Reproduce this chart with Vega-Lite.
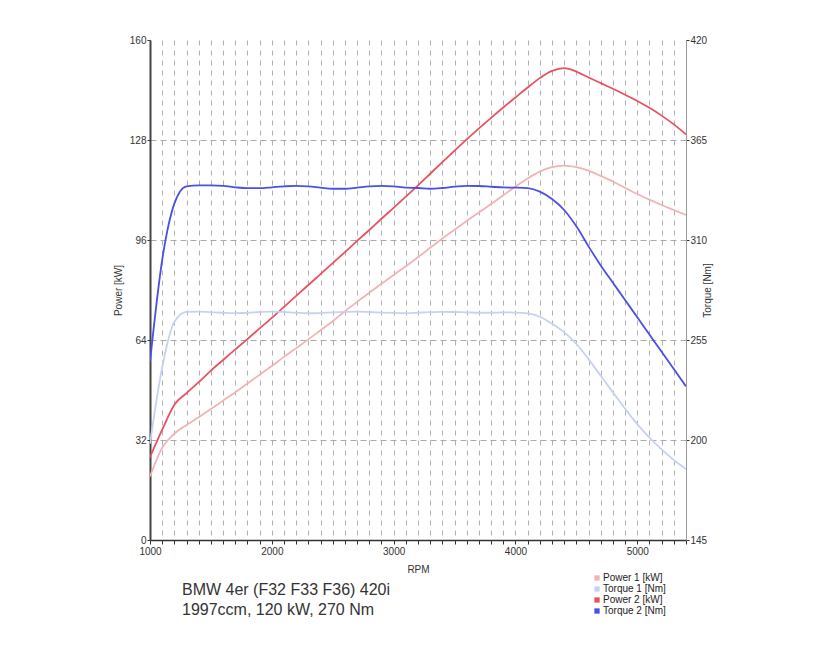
{
  "$schema": "https://vega.github.io/schema/vega-lite/v6.json",
  "width": 536,
  "height": 500,
  "autosize": "none",
  "padding": {"left": 150, "top": 40, "right": 144, "bottom": 110},
  "background": "white",
  "config": {
    "font": "Liberation Sans",
    "view": {"stroke": null},
    "axis": {"labelFont": "Liberation Sans", "titleFont": "Liberation Sans", "labelFontSize": 10, "titleFontSize": 10, "titleFontWeight": "normal", "labelColor": "#333", "titleColor": "#333"}
  },
  "title": {
    "text": ["\u2002BMW 4er (F32 F33 F36) 420i", "1997ccm, 120 kW, 270 Nm"],
    "orient": "bottom", "anchor": "start", "frame": "group",
    "fontSize": 16, "fontWeight": "normal", "color": "#333", "lineHeight": 20,
    "dx": 32, "offset": -34, "font": "Liberation Sans"
  },
  "datasets": {
    "power": [
      {"rpm":1000,"series":"Power 1 [kW]","value":20.3},{"rpm":1100,"series":"Power 1 [kW]","value":29.5},{"rpm":1200,"series":"Power 1 [kW]","value":34},{"rpm":1300,"series":"Power 1 [kW]","value":36.8},{"rpm":1400,"series":"Power 1 [kW]","value":39.3},{"rpm":1500,"series":"Power 1 [kW]","value":41.9},{"rpm":1600,"series":"Power 1 [kW]","value":44.6},{"rpm":1700,"series":"Power 1 [kW]","value":47.3},{"rpm":1800,"series":"Power 1 [kW]","value":50.1},{"rpm":1900,"series":"Power 1 [kW]","value":52.9},{"rpm":2000,"series":"Power 1 [kW]","value":55.7},{"rpm":2100,"series":"Power 1 [kW]","value":58.6},{"rpm":2200,"series":"Power 1 [kW]","value":61.4},{"rpm":2300,"series":"Power 1 [kW]","value":64.2},{"rpm":2400,"series":"Power 1 [kW]","value":67.1},{"rpm":2500,"series":"Power 1 [kW]","value":70},{"rpm":2600,"series":"Power 1 [kW]","value":73.2},{"rpm":2700,"series":"Power 1 [kW]","value":76.2},{"rpm":2800,"series":"Power 1 [kW]","value":79.1},{"rpm":2900,"series":"Power 1 [kW]","value":82},{"rpm":3000,"series":"Power 1 [kW]","value":84.8},{"rpm":3100,"series":"Power 1 [kW]","value":87.6},{"rpm":3200,"series":"Power 1 [kW]","value":90.5},{"rpm":3300,"series":"Power 1 [kW]","value":93.5},{"rpm":3400,"series":"Power 1 [kW]","value":96.5},{"rpm":3500,"series":"Power 1 [kW]","value":99.3},{"rpm":3600,"series":"Power 1 [kW]","value":102.1},{"rpm":3700,"series":"Power 1 [kW]","value":104.8},{"rpm":3800,"series":"Power 1 [kW]","value":107.5},{"rpm":3900,"series":"Power 1 [kW]","value":110.3},{"rpm":4000,"series":"Power 1 [kW]","value":113.1},{"rpm":4100,"series":"Power 1 [kW]","value":115.7},{"rpm":4200,"series":"Power 1 [kW]","value":117.9},{"rpm":4300,"series":"Power 1 [kW]","value":119.3},{"rpm":4400,"series":"Power 1 [kW]","value":119.8},{"rpm":4500,"series":"Power 1 [kW]","value":119.3},{"rpm":4600,"series":"Power 1 [kW]","value":118.2},{"rpm":4700,"series":"Power 1 [kW]","value":116.5},{"rpm":4800,"series":"Power 1 [kW]","value":114.7},{"rpm":4900,"series":"Power 1 [kW]","value":112.7},{"rpm":5000,"series":"Power 1 [kW]","value":110.7},{"rpm":5100,"series":"Power 1 [kW]","value":108.9},{"rpm":5200,"series":"Power 1 [kW]","value":107.2},{"rpm":5300,"series":"Power 1 [kW]","value":105.6},{"rpm":5400,"series":"Power 1 [kW]","value":104},
      {"rpm":1000,"series":"Power 2 [kW]","value":26.5},{"rpm":1100,"series":"Power 2 [kW]","value":35.3},{"rpm":1200,"series":"Power 2 [kW]","value":43.3},{"rpm":1300,"series":"Power 2 [kW]","value":47},{"rpm":1400,"series":"Power 2 [kW]","value":50.5},{"rpm":1500,"series":"Power 2 [kW]","value":54.2},{"rpm":1600,"series":"Power 2 [kW]","value":57.6},{"rpm":1700,"series":"Power 2 [kW]","value":61},{"rpm":1800,"series":"Power 2 [kW]","value":64.3},{"rpm":1900,"series":"Power 2 [kW]","value":67.7},{"rpm":2000,"series":"Power 2 [kW]","value":71.1},{"rpm":2100,"series":"Power 2 [kW]","value":74.6},{"rpm":2200,"series":"Power 2 [kW]","value":78.1},{"rpm":2300,"series":"Power 2 [kW]","value":81.6},{"rpm":2400,"series":"Power 2 [kW]","value":85.1},{"rpm":2500,"series":"Power 2 [kW]","value":88.6},{"rpm":2600,"series":"Power 2 [kW]","value":92.1},{"rpm":2700,"series":"Power 2 [kW]","value":95.7},{"rpm":2800,"series":"Power 2 [kW]","value":99.2},{"rpm":2900,"series":"Power 2 [kW]","value":102.8},{"rpm":3000,"series":"Power 2 [kW]","value":106.3},{"rpm":3100,"series":"Power 2 [kW]","value":109.9},{"rpm":3200,"series":"Power 2 [kW]","value":113.5},{"rpm":3300,"series":"Power 2 [kW]","value":117.2},{"rpm":3400,"series":"Power 2 [kW]","value":120.9},{"rpm":3500,"series":"Power 2 [kW]","value":124.6},{"rpm":3600,"series":"Power 2 [kW]","value":128.2},{"rpm":3700,"series":"Power 2 [kW]","value":131.7},{"rpm":3800,"series":"Power 2 [kW]","value":135.1},{"rpm":3900,"series":"Power 2 [kW]","value":138.4},{"rpm":4000,"series":"Power 2 [kW]","value":141.6},{"rpm":4100,"series":"Power 2 [kW]","value":144.8},{"rpm":4200,"series":"Power 2 [kW]","value":147.8},{"rpm":4300,"series":"Power 2 [kW]","value":150.1},{"rpm":4400,"series":"Power 2 [kW]","value":151},{"rpm":4500,"series":"Power 2 [kW]","value":149.9},{"rpm":4600,"series":"Power 2 [kW]","value":148},{"rpm":4700,"series":"Power 2 [kW]","value":146.2},{"rpm":4800,"series":"Power 2 [kW]","value":144.4},{"rpm":4900,"series":"Power 2 [kW]","value":142.5},{"rpm":5000,"series":"Power 2 [kW]","value":140.5},{"rpm":5100,"series":"Power 2 [kW]","value":138.3},{"rpm":5200,"series":"Power 2 [kW]","value":135.8},{"rpm":5300,"series":"Power 2 [kW]","value":133},{"rpm":5400,"series":"Power 2 [kW]","value":129.8}
    ],
    "torque": [
      {"rpm":1000,"series":"Torque 1 [Nm]","value":198},{"rpm":1100,"series":"Torque 1 [Nm]","value":240},{"rpm":1200,"series":"Torque 1 [Nm]","value":265},{"rpm":1300,"series":"Torque 1 [Nm]","value":270.5},{"rpm":1400,"series":"Torque 1 [Nm]","value":270.6},{"rpm":1500,"series":"Torque 1 [Nm]","value":270.3},{"rpm":1600,"series":"Torque 1 [Nm]","value":270},{"rpm":1700,"series":"Torque 1 [Nm]","value":269.8},{"rpm":1800,"series":"Torque 1 [Nm]","value":270},{"rpm":1900,"series":"Torque 1 [Nm]","value":270.4},{"rpm":2000,"series":"Torque 1 [Nm]","value":270.6},{"rpm":2100,"series":"Torque 1 [Nm]","value":270.4},{"rpm":2200,"series":"Torque 1 [Nm]","value":270},{"rpm":2300,"series":"Torque 1 [Nm]","value":269.7},{"rpm":2400,"series":"Torque 1 [Nm]","value":269.8},{"rpm":2500,"series":"Torque 1 [Nm]","value":270.2},{"rpm":2600,"series":"Torque 1 [Nm]","value":270.5},{"rpm":2700,"series":"Torque 1 [Nm]","value":270.6},{"rpm":2800,"series":"Torque 1 [Nm]","value":270.4},{"rpm":2900,"series":"Torque 1 [Nm]","value":270.1},{"rpm":3000,"series":"Torque 1 [Nm]","value":269.9},{"rpm":3100,"series":"Torque 1 [Nm]","value":269.8},{"rpm":3200,"series":"Torque 1 [Nm]","value":270},{"rpm":3300,"series":"Torque 1 [Nm]","value":270.3},{"rpm":3400,"series":"Torque 1 [Nm]","value":270.5},{"rpm":3500,"series":"Torque 1 [Nm]","value":270.4},{"rpm":3600,"series":"Torque 1 [Nm]","value":270.2},{"rpm":3700,"series":"Torque 1 [Nm]","value":270},{"rpm":3800,"series":"Torque 1 [Nm]","value":270},{"rpm":3900,"series":"Torque 1 [Nm]","value":270.2},{"rpm":4000,"series":"Torque 1 [Nm]","value":270.1},{"rpm":4100,"series":"Torque 1 [Nm]","value":269.6},{"rpm":4200,"series":"Torque 1 [Nm]","value":267.8},{"rpm":4300,"series":"Torque 1 [Nm]","value":264},{"rpm":4400,"series":"Torque 1 [Nm]","value":259.3},{"rpm":4500,"series":"Torque 1 [Nm]","value":252.8},{"rpm":4600,"series":"Torque 1 [Nm]","value":244.5},{"rpm":4700,"series":"Torque 1 [Nm]","value":235.3},{"rpm":4800,"series":"Torque 1 [Nm]","value":226.2},{"rpm":4900,"series":"Torque 1 [Nm]","value":217.2},{"rpm":5000,"series":"Torque 1 [Nm]","value":208.7},{"rpm":5100,"series":"Torque 1 [Nm]","value":201.3},{"rpm":5200,"series":"Torque 1 [Nm]","value":194.8},{"rpm":5300,"series":"Torque 1 [Nm]","value":189},{"rpm":5400,"series":"Torque 1 [Nm]","value":184},
      {"rpm":1000,"series":"Torque 2 [Nm]","value":243},{"rpm":1100,"series":"Torque 2 [Nm]","value":299},{"rpm":1200,"series":"Torque 2 [Nm]","value":330},{"rpm":1300,"series":"Torque 2 [Nm]","value":339.5},{"rpm":1400,"series":"Torque 2 [Nm]","value":340},{"rpm":1500,"series":"Torque 2 [Nm]","value":340},{"rpm":1600,"series":"Torque 2 [Nm]","value":339.8},{"rpm":1700,"series":"Torque 2 [Nm]","value":339},{"rpm":1800,"series":"Torque 2 [Nm]","value":338.5},{"rpm":1900,"series":"Torque 2 [Nm]","value":338.5},{"rpm":2000,"series":"Torque 2 [Nm]","value":339},{"rpm":2100,"series":"Torque 2 [Nm]","value":339.5},{"rpm":2200,"series":"Torque 2 [Nm]","value":339.8},{"rpm":2300,"series":"Torque 2 [Nm]","value":339.5},{"rpm":2400,"series":"Torque 2 [Nm]","value":338.8},{"rpm":2500,"series":"Torque 2 [Nm]","value":338.2},{"rpm":2600,"series":"Torque 2 [Nm]","value":338.2},{"rpm":2700,"series":"Torque 2 [Nm]","value":338.8},{"rpm":2800,"series":"Torque 2 [Nm]","value":339.5},{"rpm":2900,"series":"Torque 2 [Nm]","value":339.8},{"rpm":3000,"series":"Torque 2 [Nm]","value":339.5},{"rpm":3100,"series":"Torque 2 [Nm]","value":338.8},{"rpm":3200,"series":"Torque 2 [Nm]","value":338.6},{"rpm":3300,"series":"Torque 2 [Nm]","value":338.2},{"rpm":3400,"series":"Torque 2 [Nm]","value":338.6},{"rpm":3500,"series":"Torque 2 [Nm]","value":339.3},{"rpm":3600,"series":"Torque 2 [Nm]","value":339.8},{"rpm":3700,"series":"Torque 2 [Nm]","value":339.7},{"rpm":3800,"series":"Torque 2 [Nm]","value":339.3},{"rpm":3900,"series":"Torque 2 [Nm]","value":338.9},{"rpm":4000,"series":"Torque 2 [Nm]","value":338.8},{"rpm":4100,"series":"Torque 2 [Nm]","value":338.5},{"rpm":4200,"series":"Torque 2 [Nm]","value":336.6},{"rpm":4300,"series":"Torque 2 [Nm]","value":332.5},{"rpm":4400,"series":"Torque 2 [Nm]","value":326.5},{"rpm":4500,"series":"Torque 2 [Nm]","value":317.5},{"rpm":4600,"series":"Torque 2 [Nm]","value":306.5},{"rpm":4700,"series":"Torque 2 [Nm]","value":296},{"rpm":4800,"series":"Torque 2 [Nm]","value":286.5},{"rpm":4900,"series":"Torque 2 [Nm]","value":277},{"rpm":5000,"series":"Torque 2 [Nm]","value":267.5},{"rpm":5100,"series":"Torque 2 [Nm]","value":258},{"rpm":5200,"series":"Torque 2 [Nm]","value":248.5},{"rpm":5300,"series":"Torque 2 [Nm]","value":239},{"rpm":5400,"series":"Torque 2 [Nm]","value":229.5}
    ]
  },
  "layer": [
    {
      "data": {"name": "power"},
      "mark": {"type": "line", "interpolate": "monotone", "strokeWidth": 1.8, "clip": true},
      "encoding": {
        "x": {"field": "rpm", "type": "quantitative",
          "scale": {"domain": [1000, 5400], "nice": false, "zero": false},
          "axis": {
            "title": "RPM", "titlePadding": 8, "tickCount": 100,
            "values": [1000,1100,1200,1300,1400,1500,1600,1700,1800,1900,2000,2100,2200,2300,2400,2500,2600,2700,2800,2900,3000,3100,3200,3300,3400,3500,3600,3700,3800,3900,4000,4100,4200,4300,4400,4500,4600,4700,4800,4900,5000,5100,5200,5300,5400],
            "labelExpr": "datum.value % 1000 === 0 ? format(datum.value, 'd') : ''",
            "labelOverlap": false, "labelFlush": false, "labelPadding": 2,
            "grid": true, "gridDash": [5, 5], "gridColor": "#b0b0b0", "gridWidth": 1,
            "tickSize": 4, "tickColor": "#333", "domainColor": "#333", "domainWidth": 1.5
          }
        },
        "y": {"field": "value", "type": "quantitative",
          "scale": {"domain": [0, 160], "nice": false},
          "axis": {
            "title": "Power [kW]", "orient": "left", "titlePadding": 6,
            "values": [0, 32, 64, 96, 128, 160],
            "grid": true, "gridDash": [6, 4], "gridColor": "#aaaaaa",
            "gridOpacity": {"condition": {"test": "datum.value === 160 || datum.value === 0", "value": 0}, "value": 1},
            "tickSize": 3, "tickColor": "#333", "labelPadding": 1,
            "domainColor": "#444", "domainWidth": 2
          }
        },
        "color": {"field": "series", "type": "nominal",
          "scale": {"domain": ["Power 1 [kW]", "Torque 1 [Nm]", "Power 2 [kW]", "Torque 2 [Nm]"], "range": ["#f2b3b6", "#c6d2f3", "#e8525f", "#4b4fe6"]},
          "legend": {
            "title": null, "orient": "none", "legendX": 442, "legendY": 533,
            "symbolType": "square", "symbolSize": 28, "labelFontSize": 10, "labelColor": "#222",
            "rowPadding": 1, "labelOffset": 1, "padding": 0,
            "encode": {"symbols": {"update": {"fill": {"scale": "color", "field": "value"}, "strokeWidth": {"value": 0}}}}
          }
        }
      }
    },
    {
      "data": {"name": "torque"},
      "mark": {"type": "line", "interpolate": "monotone", "strokeWidth": 1.8, "clip": true},
      "encoding": {
        "x": {"field": "rpm", "type": "quantitative"},
        "y": {"field": "value", "type": "quantitative",
          "scale": {"domain": [145, 420], "nice": false, "zero": false},
          "axis": {
            "title": "Torque [Nm]", "orient": "right", "titleAngle": 270, "titlePadding": 6,
            "values": [145, 200, 255, 310, 365, 420], "grid": false,
            "tickSize": 3, "tickColor": "#333", "labelPadding": 1,
            "domainColor": "#999", "domainWidth": 1
          }
        },
        "color": {"field": "series", "type": "nominal"}
      }
    }
  ],
  "resolve": {"scale": {"y": "independent"}}
}
